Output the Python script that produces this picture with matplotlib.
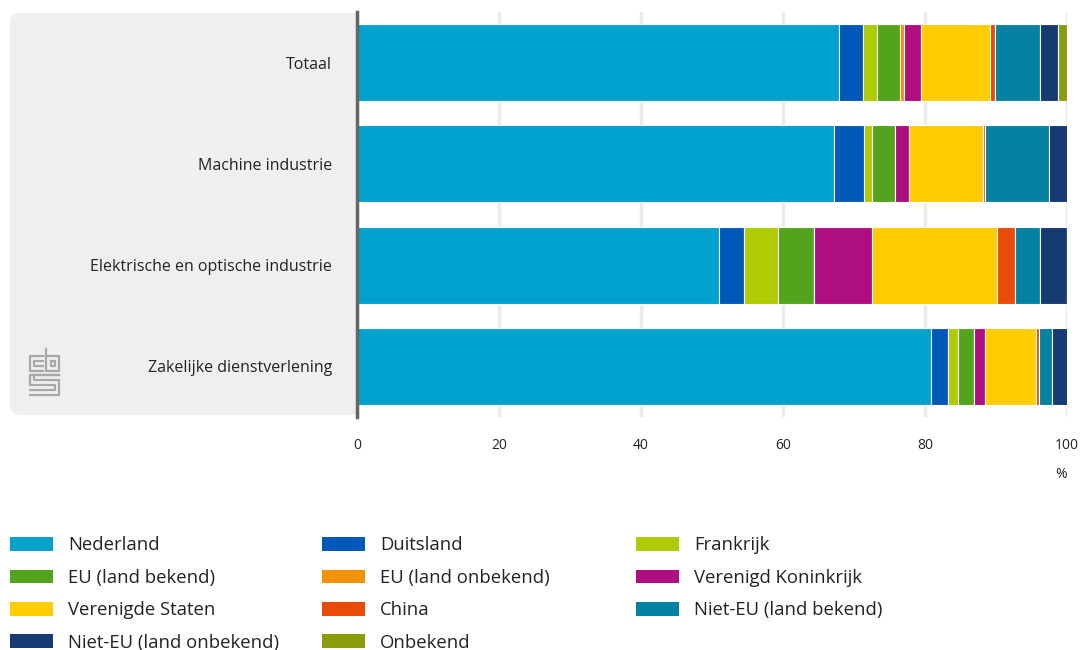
import numpy as np
import matplotlib.pyplot as plt
from matplotlib.patches import FancyBboxPatch, Patch
from matplotlib.lines import Line2D

plt.rcParams['font.family'] = ['Open Sans', 'DejaVu Sans']

# data (% per category)
categories = ['Totaal', 'Machine industrie', 'Elektrische en optische industrie',
              'Zakelijke dienstverlening']
series = ['Nederland', 'Duitsland', 'Frankrijk', 'EU (land bekend)', 'EU (land onbekend)',
          'Verenigd Koninkrijk', 'Verenigde Staten', 'China', 'Niet-EU (land bekend)',
          'Niet-EU (land onbekend)', 'Onbekend']
nederland   = [67.9, 67.2, 51.0, 80.9]
duitsland   = [3.4, 4.2, 3.5, 2.3]
frankrijk   = [1.9, 1.2, 4.8, 1.4]
eu_bekend   = [3.3, 3.2, 5.1, 2.3]
eu_onbekend = [0.5, 0.0, 0.0, 0.0]
vk          = [2.4, 1.9, 8.1, 1.6]
vs          = [9.8, 10.4, 17.6, 7.2]
china       = [0.7, 0.3, 2.6, 0.3]
niet_eu_bek = [6.3, 9.0, 3.5, 1.9]
niet_eu_onb = [2.5, 2.9, 3.8, 2.4]
onbekend    = [1.3, 0.0, 0.0, 0.0]
values = [nederland, duitsland, frankrijk, eu_bekend, eu_onbekend, vk, vs, china,
          niet_eu_bek, niet_eu_onb, onbekend]
colors = ['#00a1cd', '#0058b8', '#afcb05', '#53a31d', '#f39200', '#af0e80',
          '#ffcc00', '#e94c0a', '#0581a2', '#163a72', '#899d0c']
xticks = [0, 20, 40, 60, 80, 100]

W, H = 1084, 650
fig = plt.figure(figsize=(W / 100, H / 100), dpi=100)
ax = fig.add_axes([357 / W, 1 - 417 / H, 710 / W, 405 / H])

# grey panel behind the category labels
panel = FancyBboxPatch((10 / W, 1 - 415 / H), 380 / W, 402 / H,
                       boxstyle='round,pad=0,rounding_size=0.012',
                       transform=fig.transFigure, facecolor='#efefef',
                       edgecolor='none', zorder=-1)
fig.patches.append(panel)

y = np.arange(len(categories))
left = np.zeros(len(categories))
for name, vals, col in zip(series, values, colors):
    vals = np.array(vals)
    ax.barh(y, vals, left=left, height=0.76, color=col, edgecolor='white',
            linewidth=0.8, label=name, zorder=3)
    left += vals

ax.set_xlim(0, 100)
ax.set_ylim(3.5, -0.5)
ax.set_xticks(xticks)
ax.set_yticks(y)
ax.set_yticklabels(categories)
ax.tick_params(axis='y', length=0, pad=18, labelsize=11.5, labelcolor='#222222')
ax.tick_params(axis='x', length=0, pad=15, labelsize=10, labelcolor='#222222')
ax.grid(axis='x', color='#ebebeb', linewidth=2.5, zorder=0)
for s in ['top', 'right', 'bottom']:
    ax.spines[s].set_visible(False)
ax.spines['left'].set_color('#666666')
ax.spines['left'].set_linewidth(2.5)
ax.spines['left'].set_zorder(5)
ax.set_facecolor('white')
fig.text(1067 / W, 1 - 474 / H, '%', ha='right', va='center', fontsize=10, color='#222222')

# cbs logo (rough)
def fl(xs, ys):
    fig.add_artist(Line2D([x / W for x in xs], [1 - v / H for v in ys],
                          color='#a8a8a8', linewidth=1.6, transform=fig.transFigure))
fl([43, 30, 30, 43], [356, 356, 371, 371])
fl([43, 34, 34, 43], [361, 361, 366, 366])
fl([46, 46, 59, 59, 46], [349, 371, 371, 356, 356])
fl([51, 51, 55, 55, 51], [361, 366, 366, 361, 361])
fl([59, 30, 30, 55, 55, 30], [375, 375, 385, 385, 390, 390])
fl([59, 59, 34, 34, 59, 59, 30], [375, 375, 375, 380, 380, 395, 395])

# legend, row-wise order in three columns
handles = [Patch(facecolor=c, edgecolor='none') for c in colors]
cols = [[0, 3, 6, 9], [1, 4, 7, 10], [2, 5, 8]]
xs = [10, 322, 636]
for idx, x0 in zip(cols, xs):
    fig.legend([handles[i] for i in idx], [series[i] for i in idx],
               loc='upper left', bbox_to_anchor=(x0 / W, 1 - 536.5 / H),
               frameon=False, fontsize=13.3, handlelength=2.33, handleheight=0.76,
               handletextpad=0.8, labelspacing=0.78, borderaxespad=0, borderpad=0,
               labelcolor='#222222')

fig.savefig('out.png', dpi=100)
